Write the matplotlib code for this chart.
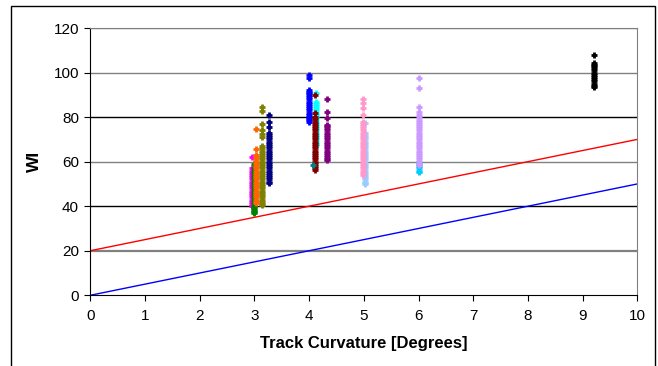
import matplotlib
matplotlib.use("Agg")
import matplotlib.pyplot as plt
from matplotlib.patches import Rectangle

plt.rcParams['font.family'] = ['Liberation Sans', 'DejaVu Sans']

# ---- data ----
x_ticks = [0, 1, 2, 3, 4, 5, 6, 7, 8, 9, 10]
y_ticks = [0, 20, 40, 60, 80, 100, 120]

line_x = [0, 10]
red_line_y = [20, 70]
blue_line_y = [0, 50]

magenta_x = 2.96
magenta_y = [40, 41, 42, 43, 44, 45, 46, 47, 48, 49, 50, 51, 52, 53, 54, 55, 56, 57, 62]
green_x = 3.00
green_y = [37, 37.5, 38, 38.5, 39, 39.5, 40, 41, 42, 43, 44, 45, 46, 47, 48, 49, 50, 51,
           52, 53, 54, 55, 56, 57, 59]
orange_x = 3.03
orange_y = [41.5, 42, 43, 44, 45, 46, 47, 48, 49, 50, 51, 52, 53, 54, 55, 56, 57, 58,
            59, 60, 61, 62, 63, 65.5, 74.5]
olive_x = 3.14
olive_y = [40.5, 41, 42, 43, 44, 45, 46, 47, 48, 49, 50, 51, 52, 53, 54, 55, 56, 57, 58,
           59, 60, 61, 62, 63, 64, 65, 66, 67, 71, 72.5, 74, 76.8, 82.9, 84.4]
navy_x = 3.26
navy_y = [50.6, 51, 52, 53, 54, 55, 56, 57, 58, 59, 60, 61, 62, 63, 64, 65, 66, 67, 68,
          69, 70, 71, 72, 72.7, 75.7, 78, 81]
blue_x = 3.99
blue_y = [77.9, 78.5, 79, 80, 81, 82, 83, 84, 85, 86, 87, 88, 89, 90, 91, 91.4, 92.1,
          97.4, 98.9]
cyan_x = 4.12
cyan_y = [67.5, 68, 69, 70, 71, 72, 73, 74, 75, 76, 77, 78, 79, 80, 81, 82, 83, 84, 85,
          86, 86.9, 90.7]
teal_x = 4.08
teal_y = [58.5]
maroon_x = 4.10
maroon_y = [56.2, 57, 58, 59, 60, 61, 62, 63, 64, 65, 66, 67, 68, 69, 70, 71, 72, 73,
            74, 75, 76, 77, 78, 79, 80, 81.7, 90]
purple_x = 4.32
purple_y = [60.7, 61, 62, 63, 64, 65, 66, 67, 68, 69, 70, 71, 72, 73, 74, 75, 76, 76.5,
            79.5, 82.4, 88]
lightblue_x = 5.02
lightblue_y = [49.8, 50.5, 51, 52, 53, 54, 55, 56, 57, 58, 59, 60, 61, 62, 63, 64, 65,
               66, 67, 68, 69, 70, 71, 72, 73, 77.2]
pink_x = 4.99
pink_y = [54, 55, 56, 57, 58, 59, 60, 61, 62, 63, 64, 65, 66, 67, 68, 69, 70, 71, 72,
          73, 74, 75, 76, 77, 78, 81, 84, 86.2, 88]
cyan6_x = 6.00
cyan6_y = [55.5, 56, 57, 58, 59, 60]
lavender_x = 6.00
lavender_y = [58.5, 59, 60, 61, 62, 63, 64, 65, 66, 67, 68, 69, 70, 71, 72, 73, 74, 75,
              76, 77, 78, 78.7, 80, 81, 82.4, 84.7, 92.9, 97.4]
black_x = 9.21
black_y = [93.4, 94, 95, 96, 97, 98, 99, 100, 101, 102, 103, 103.4, 104.4, 107.9]

series = [
    (magenta_x, magenta_y, '#ff00ff'),
    (green_x, green_y, '#008000'),
    (orange_x, orange_y, '#ff6600'),
    (olive_x, olive_y, '#808000'),
    (navy_x, navy_y, '#000080'),
    (blue_x, blue_y, '#0000ff'),
    (cyan_x, cyan_y, '#00ffff'),
    (maroon_x, maroon_y, '#800000'),
    (teal_x, teal_y, '#008080'),
    (purple_x, purple_y, '#800080'),
    (lightblue_x, lightblue_y, '#99ccff'),
    (pink_x, pink_y, '#ff99cc'),
    (cyan6_x, cyan6_y, '#00ccff'),
    (lavender_x, lavender_y, '#cc99ff'),
    (black_x, black_y, '#000000'),
]

# ---- figure ----
fig = plt.figure(figsize=(6.58, 3.66), dpi=100)
fig.patches.append(Rectangle((11/658, -0.05), 644/658, 1.05 - 6/366,
                             transform=fig.transFigure, fill=False,
                             edgecolor='black', linewidth=1.0))
ax = fig.add_axes([90.2/658, 1 - 295.3/366, (637.4 - 90.2)/658, (295.3 - 28)/366])

for yv in y_ticks[1:]:
    col = '#000000' if yv in (40, 80) else '#808080'
    lw = 1.6 if yv == 20 else 1.0
    ax.axhline(yv, color=col, linewidth=lw, zorder=1)

ax.plot(line_x, red_line_y, color='#ff0000', linewidth=1.0, zorder=2)
ax.plot(line_x, blue_line_y, color='#0000ff', linewidth=1.0, zorder=2)

for sx, sy, c in series:
    ax.plot([sx] * len(sy), sy, linestyle='none', marker='+', markersize=5,
            markeredgewidth=2.0, color=c, zorder=3)

ax.set_xlim(0, 10)
ax.set_ylim(0, 120)
ax.set_xticks(x_ticks)
ax.set_yticks(y_ticks)
ax.tick_params(direction='out', length=4, width=0.8, labelsize=11, colors='black')
ax.tick_params(axis='x', pad=6)
ax.tick_params(axis='y', pad=4)
for s in ('top', 'right'):
    ax.spines[s].set_color('#808080')
for s in ('left', 'bottom'):
    ax.spines[s].set_color('black')
ax.set_xlabel('Track Curvature [Degrees]', fontsize=12, fontweight='bold', labelpad=9)
ax.set_ylabel('WI', fontsize=12.5, fontweight='bold', labelpad=8)

fig.savefig('out.png', dpi=100)
